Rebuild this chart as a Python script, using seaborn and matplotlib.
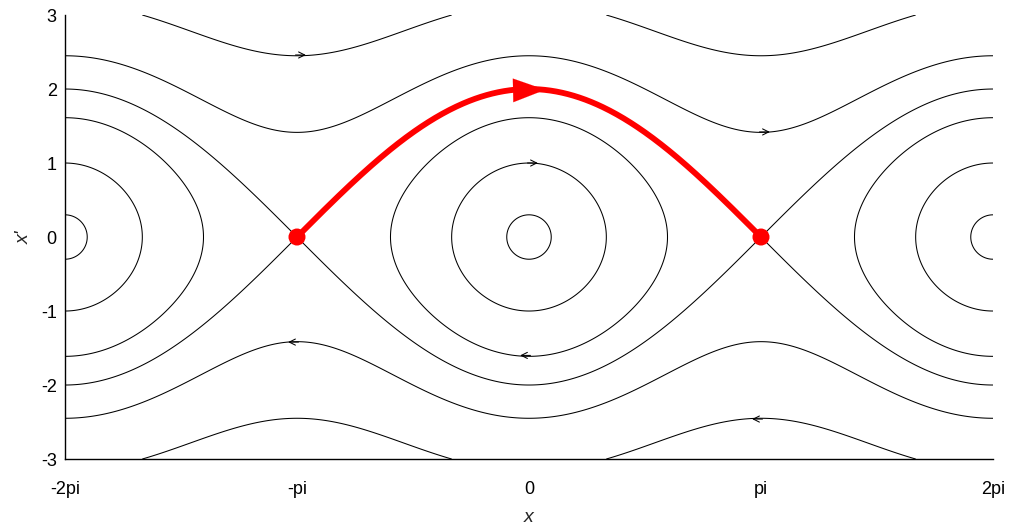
import numpy as np
import pandas as pd
import matplotlib
matplotlib.use("Agg")
import matplotlib.pyplot as plt
import seaborn as sns

# ---- data ----
# energy levels H = y^2/2 - cos(x) of the drawn trajectories
energy_levels = [-0.955, -0.5, 0.3, 1.0, 2.0, 4.0]
# direction arrows on thin curves: (x, y, direction)
arrow_x = [-np.pi, np.pi, 0.0, 0.0, -np.pi, np.pi]
arrow_y = [2.46, 1.42, 1.0, -1.6, -1.42, -2.46]
arrow_dir = [1, 1, 1, -1, -1, -1]
# saddle points (red dots)
saddle_x = [-np.pi, np.pi]
saddle_y = [0.0, 0.0]
# highlighted heteroclinic orbit level
red_level = 1.0
xtick_vals = [-2 * np.pi, -np.pi, 0, np.pi, 2 * np.pi]
xtick_labels = ["-2pi", "-pi", "0", "pi", "2pi"]
ytick_vals = [-3, -2, -1, 0, 1, 2, 3]

sns.set_style("white")
plt.rcParams["font.family"] = ["Liberation Sans", "DejaVu Sans"]
plt.rcParams["axes.unicode_minus"] = False

fig = plt.figure(figsize=(10.17, 5.29), dpi=100)
ax = fig.add_axes([0.0639, 0.1323, 0.9125, 0.8393])

# phase-plane grid
gx = np.linspace(-2 * np.pi, 2 * np.pi, 1200)
gy = np.linspace(-3, 3, 900)
X, Y = np.meshgrid(gx, gy)
H = Y ** 2 / 2 - np.cos(X)
ax.contour(X, Y, H, levels=energy_levels, colors="black", linewidths=0.75,
           linestyles="solid")

# direction arrows
for xa, ya, d in zip(arrow_x, arrow_y, arrow_dir):
    ax.annotate("", xy=(xa + d * 0.12, ya), xytext=(xa - d * 0.02, ya),
                arrowprops=dict(arrowstyle="->", lw=0.75, color="black",
                                mutation_scale=11, shrinkA=0, shrinkB=0))

# red heteroclinic orbit
rx = np.linspace(-np.pi, np.pi, 400)
ry = np.sqrt(np.clip(2 * (red_level + np.cos(rx)), 0, None))
red_df = pd.DataFrame({"x": rx, "y": ry})
sns.lineplot(data=red_df, x="x", y="y", sort=False, color="red", lw=4.2, ax=ax,
             estimator=None)
ax.annotate("", xy=(0.22, 1.99), xytext=(-0.3, 1.98),
            arrowprops=dict(arrowstyle="-|>,head_length=0.46,head_width=0.17",
                            lw=0.1, color="red",
                            mutation_scale=50, shrinkA=0, shrinkB=0))
sns.scatterplot(x=saddle_x, y=saddle_y, color="red", s=150, edgecolor="none",
                ax=ax, zorder=5)

ax.set_xlim(-2 * np.pi, 2 * np.pi)
ax.set_ylim(-3, 3)
ax.set_xticks(xtick_vals)
ax.set_xticklabels(xtick_labels)
ax.set_yticks(ytick_vals)
ax.tick_params(direction="in", length=7, width=1, labelsize=13, colors="black")
ax.tick_params(axis="x", pad=16)
ax.tick_params(axis="y", pad=6)
for side in ["top", "right"]:
    ax.spines[side].set_visible(False)
for side in ["left", "bottom"]:
    ax.spines[side].set_color("black")
    ax.spines[side].set_linewidth(1)
ax.set_xlabel("x", fontsize=14, style="italic", labelpad=8)
ax.set_ylabel("x'", fontsize=14, style="italic", labelpad=6)

fig.savefig("out.png", dpi=100)
